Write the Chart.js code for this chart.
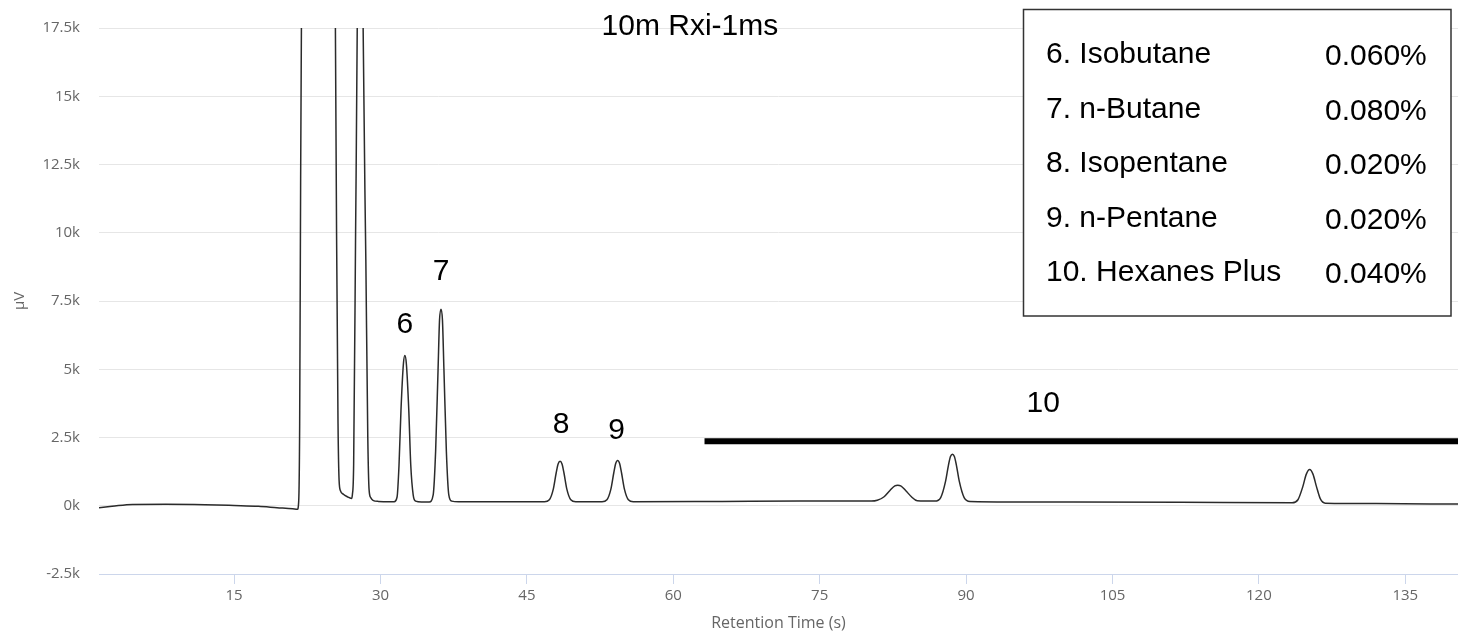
<!DOCTYPE html>
<html>
<head>
<meta charset="utf-8">
<title>10m Rxi-1ms</title>
<script src="https://cdn.jsdelivr.net/npm/chart.js@4.4.1/dist/chart.umd.min.js"></script>
<style>
    html, body { margin: 0; padding: 0; background: #fff; }
    canvas { display: block; }
</style>
</head>
<body>
<canvas id="chromatogram" width="1458" height="633"></canvas>
<script>
// chromatogram trace, retention time (s) and detector signal (µV)
const timeS = [
    1.16, 2.5, 4.6, 8.0, 12.0, 15.0, 17.5, 19.4, 21.0, 21.49,
    21.62, 21.72, 21.82, 21.9, 22.3, 23.8, 25.0, 25.38, 25.5, 25.65,
    25.76, 25.9, 26.2, 26.6, 27.03, 27.12, 27.25, 27.45, 27.62, 27.9,
    28.22, 28.5, 28.7, 28.83, 29.0, 29.23, 29.8, 31.0,
    31.4, 31.7, 31.9, 32.1, 32.35, 32.5, 32.65, 32.9, 33.1, 33.35, 33.6, 34.2,
    35.0, 35.4, 35.65, 35.9, 36.05, 36.2, 36.35, 36.5, 36.75, 37.0, 37.3, 38.0,
    46.8, 47.3, 47.7, 48.0, 48.2, 48.4, 48.6, 48.8, 49.1, 49.5, 50.0,
    52.7, 53.2, 53.6, 53.9, 54.1, 54.3, 54.5, 54.7, 55.0, 55.4, 55.9,
    65.0, 73.0,
    80.3, 80.9, 81.6, 82.2, 82.7, 83.0, 83.3, 83.8, 84.4, 85.0, 85.8,
    86.8, 87.4, 87.9, 88.2, 88.4, 88.6, 88.8, 89.0, 89.3, 89.8, 90.4,
    100.0, 112.0,
    123.4, 124.0, 124.5, 124.85, 125.2, 125.55, 125.9, 126.3, 126.8,
    132.0, 140.4
];
const signalUv = [
    -70, -20, 50, 55, 40, 10, -20, -70, -110, -130,
    150, 3000, 12000, 17600, 45000, 50000, 45000, 17600, 10000, 3000,
    930, 550, 420, 330, 270, 400, 1500, 10000, 17600, 40000,
    17600, 9000, 2500, 600, 300, 200, 160, 150,
    150, 320, 1500, 3500, 5200, 5500, 5200, 3500, 1500, 400, 170, 140,
    140, 400, 2000, 5000, 6800, 7200, 6800, 5000, 2000, 400, 170, 150,
    150, 220, 600, 1200, 1530, 1630, 1530, 1200, 600, 220, 150,
    150, 220, 600, 1200, 1550, 1660, 1550, 1200, 600, 220, 150,
    160, 170,
    170, 200, 330, 560, 730, 755, 730, 560, 330, 180, 170,
    170, 300, 900, 1500, 1800, 1890, 1800, 1500, 900, 300, 160,
    135, 125,
    110, 220, 700, 1150, 1330, 1150, 700, 250, 95,
    80, 60
];

// bar marking the hexanes plus group (10)
const hexanesBarX = [63.2, 140.4];
const hexanesBarY = [2360, 2360];

// peak numbers
const peakLabels = ['6', '7', '8', '9', '10'];
const peakLabelX = [32.5, 36.2, 48.5, 54.2, 97.9];
const peakLabelY = [6630, 8570, 2980, 2730, 3750];

const columnName = '10m Rxi-1ms';
const columnNameX = 61.7;
const columnNameY = 17530;

// results table
const componentNames = ['6. Isobutane', '7. n-Butane', '8. Isopentane', '9. n-Pentane', '10. Hexanes Plus'];
const componentPercents = ['0.060%', '0.080%', '0.020%', '0.020%', '0.040%'];

const xTickValues = [15, 30, 45, 60, 75, 90, 105, 120, 135];
const xMin = 1.16;
const xMax = 140.4;
const yMin = -2500;
const yMax = 17500;
const yStep = 2500;

const tracePoints = timeS.map((t, i) => ({ x: t, y: signalUv[i] }));
const barPoints = hexanesBarX.map((t, i) => ({ x: t, y: hexanesBarY[i] }));

const annotations = {
    id: 'chromAnnotations',
    afterDraw(chart) {
        const { ctx } = chart;
        const x = chart.scales.x;
        const y = chart.scales.y;
        ctx.save();
        ctx.font = '30px "Liberation Sans", Arial, sans-serif';
        ctx.fillStyle = '#000';
        ctx.textAlign = 'center';
        ctx.textBaseline = 'middle';
        peakLabels.forEach((label, i) => {
            ctx.fillText(label, x.getPixelForValue(peakLabelX[i]), y.getPixelForValue(peakLabelY[i]));
        });
        ctx.fillText(columnName, x.getPixelForValue(columnNameX), y.getPixelForValue(columnNameY));

        // results box
        const boxLeft = 1023.5, boxTop = 9.5, boxW = 427.5, boxH = 306.5;
        ctx.fillStyle = '#fff';
        ctx.fillRect(boxLeft, boxTop, boxW, boxH);
        ctx.strokeStyle = '#333';
        ctx.lineWidth = 1.5;
        ctx.strokeRect(boxLeft, boxTop, boxW, boxH);

        ctx.fillStyle = '#000';
        ctx.textAlign = 'left';
        componentNames.forEach((name, i) => {
            const rowY = 55 + i * 54.5;
            ctx.fillText(name, 1046, rowY);
            ctx.fillText(componentPercents[i], 1325, rowY + 2);
        });
        ctx.restore();
    }
};

const ctx = document.getElementById('chromatogram').getContext('2d');
Chart.defaults.font.family = '"Open Sans", "DejaVu Sans", sans-serif';

new Chart(ctx, {
    type: 'line',
    data: {
        datasets: [
            {
                label: 'Signal',
                data: tracePoints,
                borderColor: '#2b2b2b',
                borderWidth: 1.5,
                pointRadius: 0,
                cubicInterpolationMode: 'monotone',
                fill: false
            },
            {
                label: 'Hexanes Plus',
                data: barPoints,
                borderColor: '#000',
                borderWidth: 6,
                borderCapStyle: 'butt',
                pointRadius: 0,
                fill: false
            }
        ]
    },
    options: {
        responsive: false,
        animation: false,
        layout: {
            padding: { top: 27, right: 0, bottom: 0, left: 0 }
        },
        plugins: {
            legend: { display: false },
            tooltip: { enabled: false }
        },
        scales: {
            x: {
                type: 'linear',
                min: xMin,
                max: xMax,
                afterBuildTicks: (scale) => {
                    scale.ticks = xTickValues.map(v => ({ value: v }));
                },
                afterFit: (scale) => {
                    scale.height = 59;
                },
                grid: {
                    drawOnChartArea: false,
                    drawTicks: true,
                    tickLength: 10,
                    color: '#ccd6eb'
                },
                border: { color: '#ccd6eb', width: 1 },
                ticks: {
                    color: '#666666',
                    font: { size: 15 },
                    padding: 3,
                    maxRotation: 0
                },
                title: {
                    display: true,
                    text: 'Retention Time (s)',
                    color: '#666666',
                    font: { size: 16 },
                    padding: { top: 0, bottom: 0 }
                }
            },
            y: {
                type: 'linear',
                min: yMin,
                max: yMax,
                afterFit: (scale) => {
                    scale.width = 99;
                },
                grid: {
                    color: '#e6e6e6',
                    drawTicks: false
                },
                border: { display: false },
                ticks: {
                    stepSize: yStep,
                    color: '#666666',
                    font: { size: 15 },
                    padding: 19,
                    callback: (value) => (value / 1000) + 'k'
                },
                title: {
                    display: true,
                    text: 'µV',
                    color: '#666666',
                    font: { size: 15 },
                    padding: { top: 11, bottom: 0 }
                }
            }
        }
    },
    plugins: [annotations]
});
</script>
</body>
</html>
